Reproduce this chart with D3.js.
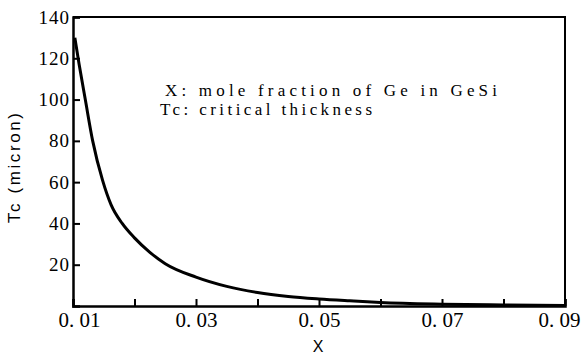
<!DOCTYPE html>
<html>
<head>
<meta charset="utf-8">
<script src="https://cdn.jsdelivr.net/npm/d3@7"></script>
<style>
  body { margin: 0; background: #fff; }
  svg { display: block; }
  .serif { font-family: "Liberation Serif", "Times New Roman", "DejaVu Serif", "Nimbus Roman", serif; }
  .sans { font-family: "Liberation Sans", Arial, "DejaVu Sans", sans-serif; }
</style>
</head>
<body>
<div id="chart"></div>
<script>
// Critical thickness curve
var moleFraction = [0.0103, 0.0110, 0.0120, 0.0132, 0.0148, 0.0162, 0.0180, 0.0200, 0.0225, 0.0250,
                    0.0300, 0.0350, 0.0400, 0.0450, 0.0500, 0.0550, 0.0600, 0.0700, 0.0800, 0.0900];
var thickness = [130, 117, 100, 80, 61, 49, 40, 33, 26, 20.5,
                 14, 9.5, 6.5, 4.6, 3.4, 2.5, 1.7, 0.9, 0.5, 0.2];

var xTicks = [0.01, 0.02, 0.03, 0.04, 0.05, 0.06, 0.07, 0.08, 0.09];
var xTickLabels = {0.01: "0. 01", 0.03: "0. 03", 0.05: "0. 05", 0.07: "0. 07", 0.09: "0. 09"};
var yTicks = [20, 40, 60, 80, 100, 120, 140];
var notes = ["X: mole fraction of Ge in GeSi", "Tc: critical thickness"];

var width = 586, height = 354;
var margin = { top: 17, right: 21, bottom: 48, left: 73 };

var svg = d3.select("#chart").append("svg")
  .attr("width", width)
  .attr("height", height);

var x = d3.scaleLinear()
  .domain([0.01, 0.09])
  .range([margin.left, width - margin.right]);

var y = d3.scaleLinear()
  .domain([0, 140])
  .range([height - margin.bottom, margin.top]);

// frame top and right
svg.append("path")
  .attr("d", "M" + x(0.01) + "," + y(140) + "H" + x(0.09) + "V" + y(0))
  .attr("fill", "none")
  .attr("stroke", "#000")
  .attr("stroke-width", 2);

// x axis, ticks point inward
var xAxis = d3.axisBottom(x)
  .tickValues(xTicks)
  .tickSize(-7)
  .tickPadding(6)
  .tickFormat(function(d) { return xTickLabels[d] || ""; });

var gx = svg.append("g")
  .attr("class", "serif")
  .attr("transform", "translate(0," + y(0) + ")")
  .call(xAxis);
gx.attr("font-family", null).attr("font-size", 21);
gx.select(".domain").attr("stroke-width", 2.5);
gx.selectAll(".tick line").attr("stroke-width", 2);
gx.selectAll(".tick text")
  .attr("fill", "#000")
  .attr("dx", function(d) { return d === 0.01 ? 6 : d === 0.09 ? -6 : 0; });

// y axis
var yAxis = d3.axisLeft(y)
  .tickValues(yTicks)
  .tickSize(-7)
  .tickPadding(3)
  .tickFormat(d3.format("d"));

var gy = svg.append("g")
  .attr("class", "serif")
  .attr("transform", "translate(" + x(0.01) + ",0)")
  .call(yAxis);
gy.attr("font-family", null).attr("font-size", 19);
gy.select(".domain").attr("stroke-width", 2.5);
gy.selectAll(".tick line").attr("stroke-width", 2);
gy.selectAll(".tick text")
  .attr("letter-spacing", 1)
  .attr("fill", "#000");

// the curve
var line = d3.line()
  .x(function(d, i) { return x(moleFraction[i]); })
  .y(function(d) { return y(d); })
  .curve(d3.curveMonotoneX);

svg.append("path")
  .datum(thickness)
  .attr("d", line)
  .attr("fill", "none")
  .attr("stroke", "#000")
  .attr("stroke-width", 3);

// axis titles
svg.append("text")
  .attr("class", "sans")
  .attr("transform", "translate(20,168) rotate(-90)")
  .attr("text-anchor", "middle")
  .attr("font-size", 17)
  .attr("textLength", 110)
  .attr("lengthAdjust", "spacing")
  .text("Tc (micron)");

svg.append("text")
  .attr("class", "sans")
  .attr("x", 318)
  .attr("y", 352)
  .attr("text-anchor", "middle")
  .attr("font-size", 16)
  .text("X");

// legend notes
var noteX = [165, 160], noteY = [96, 115], noteLen = [332, 212];
svg.selectAll(".note")
  .data(notes)
  .enter()
  .append("text")
  .attr("class", "note serif")
  .attr("x", function(d, i) { return noteX[i]; })
  .attr("y", function(d, i) { return noteY[i]; })
  .attr("font-size", 17)
  .attr("textLength", function(d, i) { return noteLen[i]; })
  .attr("lengthAdjust", "spacing")
  .text(function(d) { return d; });
</script>
</body>
</html>
